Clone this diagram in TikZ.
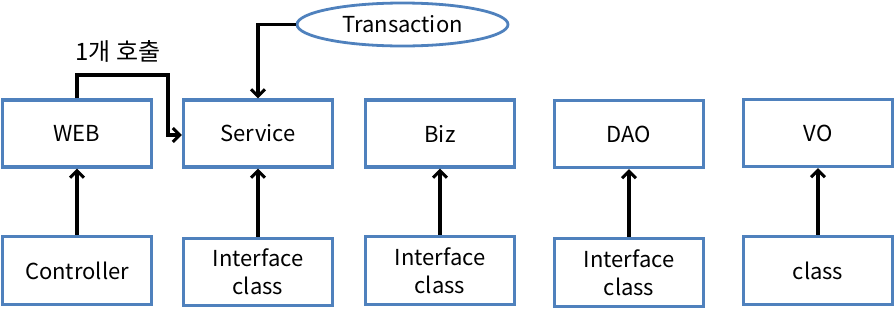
\documentclass[tikz,border=0pt]{standalone}
\usepackage{fontspec}
\setmainfont{Noto Sans CJK KR}
\usetikzlibrary{arrows.meta,shapes.geometric}
\definecolor{boxblue}{HTML}{4F81BD}
\begin{document}
\begin{tikzpicture}[x=1pt,y=-1pt,
  layerbox/.style={draw=boxblue,line width=3.2pt,minimum width=149pt,minimum height=67pt,
    inner sep=0pt,align=center,font=\fontsize{22}{28}\selectfont},
  conn/.style={draw=black,line width=3.2pt,-{Straight Barb[length=7pt,width=14pt,line width=3pt]}}]
\useasboundingbox (0,0) rectangle (895,314);
% top row
\node[layerbox] (web) at (77,133.5) {WEB};
\node[layerbox] (svc) at (258,133.5) {Service};
\node[layerbox] (biz) at (440,133.5) {Biz};
\node[layerbox] (dao) at (629,134) {DAO};
\node[layerbox] (vo) at (818,133) {VO};
% bottom row
\node[layerbox,minimum height=68pt] (ctl) at (77,270.5) {Controller};
\node[layerbox,minimum height=67pt] (svci) at (258,272) {Interface\\class};
\node[layerbox,minimum height=68pt] (bizi) at (440,270.5) {Interface\\class};
\node[layerbox,minimum height=68pt] (daoi) at (629,272.5) {Interface\\class};
\node[layerbox,minimum height=68pt] (voc) at (818,270.5) {class};
% transaction
\node[draw=boxblue,line width=2.8pt,ellipse,minimum width=211pt,minimum height=43pt,inner sep=0pt,
  font=\fontsize{22}{26}\selectfont] (tx) at (402.5,24.5) {Transaction};
% arrows
\draw[conn] (ctl.north) -- (web.south);
\draw[conn] (svci.north) -- (svc.south);
\draw[conn] (bizi.north) -- (biz.south);
\draw[conn] (daoi.north) -- (dao.south);
\draw[conn] (voc.north) -- (vo.south);
\draw[conn] (tx.west) -| (svc.north);
\coordinate (c1) at (77,75);
\coordinate (c2) at (168,75);
\coordinate (c3) at (168,135);
\draw[conn] (web.north) -- (c1) -- (c2) -- (c3) -- (svc.west|-c3);
\node[font=\fontsize{24}{28}\selectfont,inner sep=0pt] (lbl) at (118,51) {1개 호출};
\end{tikzpicture}
\end{document}
